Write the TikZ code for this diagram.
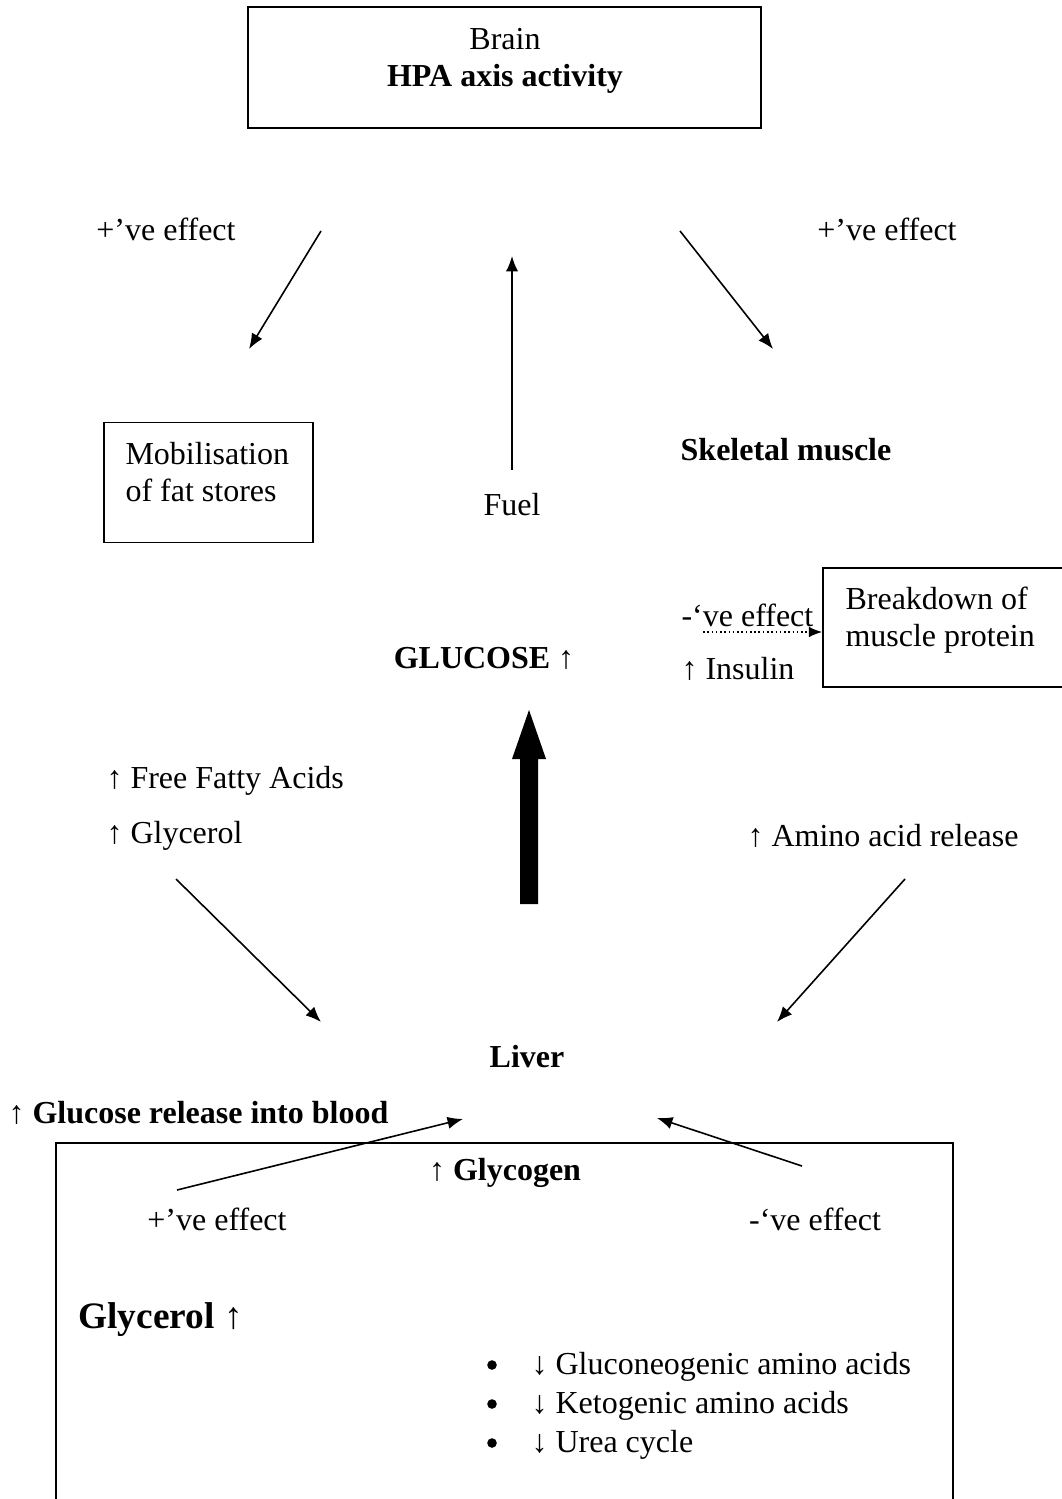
\documentclass[tikz,border=0pt]{standalone}
\usepackage{fontspec}
\setmainfont{Liberation Serif}
\usetikzlibrary{arrows.meta}

\tikzset{
  txt/.style={inner sep=0pt, font=\fontsize{12}{14}\selectfont},
  btxt/.style={inner sep=0pt, font=\fontsize{12}{14}\selectfont\bfseries},
  lbox/.style={draw, line width=0.6pt, inner sep=0pt},
  link/.style={-{Latex[length=5.8pt,width=4.6pt]}, line width=0.6pt},
  bullet/.style={circle, fill, inner sep=0pt, minimum size=3.6pt},
}

\begin{document}
\begin{tikzpicture}[x=0.375pt, y=-0.375pt]
	\useasboundingbox (0,0) rectangle (1061,1499);

	% boxes
	\node[lbox, minimum width=192.4pt, minimum height=45.4pt] (brainbox) at (504.5,67.5) {};
	\node[txt, align=center] (brain) at (505,61) {Brain\\\textbf{HPA axis activity}};
	\node[lbox, minimum width=78.4pt, minimum height=45pt] (fatbox) at (208.5,482.5) {};
	\node[txt, align=left, anchor=west] (fat) at (125,472) {Mobilisation\\of fat stores};
	\node[lbox, minimum width=94.5pt, minimum height=44.6pt] (breakbox) at (949,627.5) {};
	\node[txt, align=left, anchor=west] (breakdown) at (845,620) {Breakdown of\\muscle protein};
	\draw[line width=0.6pt] (56,1510) |- (953,1143) -- (953,1510);

	% labels
	\node[txt] (plusl) at (166,229) {+’ve effect};
	\node[txt] (plusr) at (887,229) {+’ve effect};
	\node[btxt] (muscle) at (786,450) {Skeletal muscle};
	\node[txt] (fuel) at (512,505) {Fuel};
	\node[btxt] (glucose) at (484,658) {GLUCOSE ↑};
	\node[txt, anchor=west] (minus) at (681,615) {-‘ve effect};
	\node[txt, anchor=west] (insulin) at (681,669) {↑ Insulin};
	\node[txt, anchor=west] (ffa) at (106,781) {↑ Free Fatty Acids};
	\node[txt, anchor=west] (glyc) at (106,836) {↑ Glycerol};
	\node[txt, anchor=west] (amino) at (747,836) {↑ Amino acid release};
	\node[btxt] (liver) at (527,1057) {Liver};
	\node[btxt, anchor=west] (release) at (8,1113) {↑ Glucose release into blood};
	\node[btxt] (glycogen) at (505,1173) {↑ Glycogen};
	\node[txt] (plusb) at (217,1219) {+’ve effect};
	\node[txt] (minusb) at (815,1219) {-‘ve effect};
	\node[btxt, anchor=west, font=\fontsize{14}{16}\selectfont\bfseries] (glycerol) at (78,1320) {Glycerol ↑};
	\foreach \y/\t [count=\i] in {1367/↓ Gluconeogenic amino acids, 1406/↓ Ketogenic amino acids, 1445/↓ Urea cycle} {
		\node[bullet] (dot\i) at (492,\y-2) {};
		\node[txt, anchor=west] (item\i) at (531,\y) {\t};
	}

	% arrow ends
	\coordinate (a1) at (321,231);  \coordinate (b1) at (249,349);
	\coordinate (a2) at (512,470);  \coordinate (b2) at (512,256);
	\coordinate (a3) at (680,231);  \coordinate (b3) at (773,349);
	\coordinate (a4) at (176,879);  \coordinate (b4) at (321,1022);
	\coordinate (a5) at (905,879);  \coordinate (b5) at (777,1022);
	\coordinate (a6) at (177,1190); \coordinate (b6) at (463,1119);
	\coordinate (a7) at (802,1166); \coordinate (b7) at (657,1118);
	\coordinate (a8) at (703,632);

	\draw[link] (a1) -- (b1);
	\draw[link] (a2) -- (b2);
	\draw[link] (a3) -- (b3);
	\draw[link] (a4) -- (b4);
	\draw[link] (a5) -- (b5);
	\draw[link] (a6) -- (b6);
	\draw[link] (a7) -- (b7);
	\draw[link, densely dotted, -{Latex[length=5pt,width=4pt]}] (a8) -- (breakbox.west |- a8);

	% big arrow
	\fill (520,904) -- (520,759) -- (512,759) -- (529,710) -- (546,759) -- (538,759) -- (538,904) -- cycle;
\end{tikzpicture}
\end{document}
